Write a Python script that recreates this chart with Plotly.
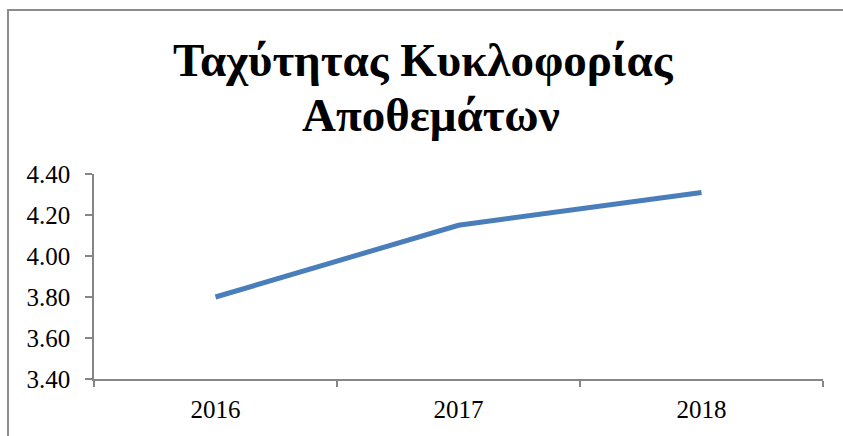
import plotly.graph_objects as go

# Inventory turnover by year
years = ["2016", "2017", "2018"]
turnover = [3.80, 4.15, 4.31]
y_ticks = [3.40, 3.60, 3.80, 4.00, 4.20, 4.40]
title_lines = ["Ταχύτητας Κυκλοφορίας", "Αποθεμάτων"]

W, H = 843, 436
L, R, T, B = 94, 20, 174, 57

fig = go.Figure()
fig.add_trace(go.Scatter(
    x=years, y=turnover, mode="lines",
    line=dict(color="#4a7ebb", width=5),
    hoverinfo="skip",
))

axis_font = dict(family="Liberation Serif, Times New Roman, serif", size=25, color="#000000")

fig.update_layout(
    width=W, height=H,
    margin=dict(l=L, r=R, t=T, b=B),
    paper_bgcolor="white", plot_bgcolor="white",
    showlegend=False,
    xaxis=dict(
        type="category", tickson="boundaries",
        ticks="outside", ticklen=6, tickwidth=1.5, tickcolor="#868686",
        showline=True, linecolor="#868686", linewidth=1.5,
        showgrid=False, zeroline=False,
        tickfont=axis_font, ticklabelstandoff=7,
        range=[-0.5, 2.5],
    ),
    yaxis=dict(
        range=[3.40, 4.40], tickvals=y_ticks,
        ticktext=[f"{v:.2f}" for v in y_ticks],
        ticks="outside", ticklen=7, tickwidth=1.5, tickcolor="#868686",
        showline=True, linecolor="#868686", linewidth=1.5,
        showgrid=False, zeroline=False,
        tickfont=axis_font, ticklabelstandoff=10,
    ),
)

# Title, two centred lines
title_font = dict(family="Liberation Serif, Times New Roman, serif", size=47, color="#000000")
for txt, xpx, ypx in zip(title_lines, [423, 431], [60, 115]):
    fig.add_annotation(
        text=f"<b>{txt}</b>", xref="paper", yref="paper",
        x=(xpx - L) / (W - L - R), y=(H - B - ypx) / (H - T - B),
        xanchor="center", yanchor="middle", showarrow=False, font=title_font,
    )

# Chart frame
pw, ph = W - L - R, H - T - B
fig.add_shape(
    type="rect", xref="paper", yref="paper",
    x0=(8 - L) / pw, x1=(W + 10 - L) / pw,
    y0=(H - B - (H + 10)) / ph, y1=(H - B - 10) / ph,
    line=dict(color="#8c8c8c", width=2), fillcolor="rgba(0,0,0,0)", layer="below",
)

fig.write_html("out.html")
